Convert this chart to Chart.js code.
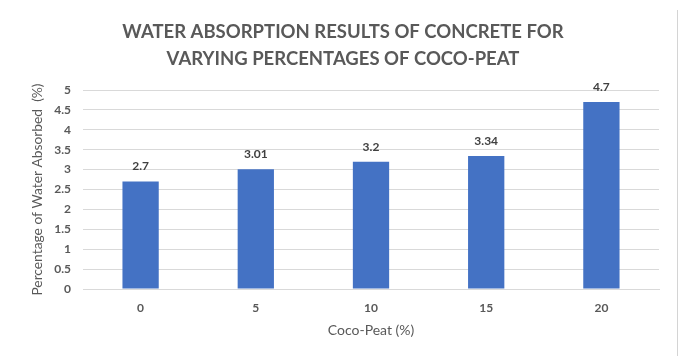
<!DOCTYPE html>
<html>
<head>
<meta charset="utf-8">
<script src="https://cdn.jsdelivr.net/npm/chart.js@4.4.1/dist/chart.umd.min.js"></script>
<style>
  html, body { margin: 0; padding: 0; background: #ffffff; }
  #wrap { width: 680px; height: 356px; position: relative; }
</style>
</head>
<body>
<div id="wrap"><canvas id="chart" width="680" height="356"></canvas></div>
<script>
// Coco-peat replacement levels and measured water absorption
const cocoPeatLevels = ['0', '5', '10', '15', '20'];
const waterAbsorbed = [2.7, 3.01, 3.2, 3.34, 4.7];
const yTickValues = [0, 0.5, 1, 1.5, 2, 2.5, 3, 3.5, 4, 4.5, 5];

const chartTitle = ['WATER ABSORPTION RESULTS OF CONCRETE FOR', 'VARYING PERCENTAGES OF COCO-PEAT'];
const xTitle = 'Coco-Peat (%)';
const yTitle = 'Percentage of Water Absorbed  (%)';

const FONT = 'Lato, "Open Sans", "DejaVu Sans", sans-serif';
const TEXT_GREY = '#595959';

// Writes each bar's value just above it
const valueLabels = {
  id: 'valueLabels',
  afterDatasetsDraw(chart) {
    const ctx = chart.ctx;
    const meta = chart.getDatasetMeta(0);
    const values = chart.data.datasets[0].data;
    ctx.save();
    ctx.font = 'bold 12px ' + FONT;
    ctx.fillStyle = '#404040';
    ctx.textAlign = 'center';
    ctx.textBaseline = 'middle';
    meta.data.forEach((bar, i) => {
      ctx.fillText(String(values[i]), bar.x, bar.y - 15);
    });
    ctx.restore();
  }
};

// Thin frame line along the right edge of the chart area
const edgeLine = {
  id: 'edgeLine',
  afterDraw(chart) {
    const ctx = chart.ctx;
    ctx.save();
    ctx.strokeStyle = '#d4d4d4';
    ctx.lineWidth = 1;
    ctx.beginPath();
    ctx.moveTo(677.5, 10);
    ctx.lineTo(677.5, chart.height);
    ctx.stroke();
    ctx.restore();
  }
};

new Chart(document.getElementById('chart'), {
  type: 'bar',
  data: {
    labels: cocoPeatLevels,
    datasets: [{
      data: waterAbsorbed,
      backgroundColor: '#4472C4',
      borderWidth: 0,
      categoryPercentage: 1,
      barPercentage: 0.315
    }]
  },
  options: {
    responsive: false,
    animation: false,
    devicePixelRatio: 1,
    layout: { padding: { left: 27, right: 21, top: 0, bottom: 0 } },
    plugins: {
      legend: { display: false },
      tooltip: { enabled: false },
      title: {
        display: true,
        text: chartTitle,
        color: TEXT_GREY,
        font: { family: FONT, size: 18.5, weight: 'bold', lineHeight: 1.46 },
        padding: { top: 18.5, bottom: 17.5 }
      }
    },
    scales: {
      x: {
        grid: { display: false, drawTicks: false },
        border: { display: true, color: '#d9d9d9', width: 1 },
        ticks: {
          color: TEXT_GREY,
          font: { family: FONT, size: 12, weight: 'bold' },
          padding: 12
        },
        title: {
          display: true,
          text: xTitle,
          color: TEXT_GREY,
          font: { family: FONT, size: 14, lineHeight: 1.2 },
          padding: { top: 0, bottom: 17.6 }
        },
        afterFit(scale) { scale.height = 67; }
      },
      y: {
        min: 0,
        max: 5,
        afterBuildTicks(scale) { scale.ticks = yTickValues.map(v => ({ value: v })); },
        grid: { color: '#d9d9d9', lineWidth: 1, drawTicks: false },
        border: { display: false },
        ticks: {
          color: TEXT_GREY,
          font: { family: FONT, size: 12, weight: 'bold' },
          padding: 12,
          callback: v => String(v)
        },
        title: {
          display: true,
          text: yTitle,
          color: TEXT_GREY,
          font: { family: FONT, size: 13.8, lineHeight: 1.2 },
          padding: { top: 2.7, bottom: 0 }
        },
        afterFit(scale) { scale.width = 56; }
      }
    }
  },
  plugins: [valueLabels, edgeLine]
});
</script>
</body>
</html>
